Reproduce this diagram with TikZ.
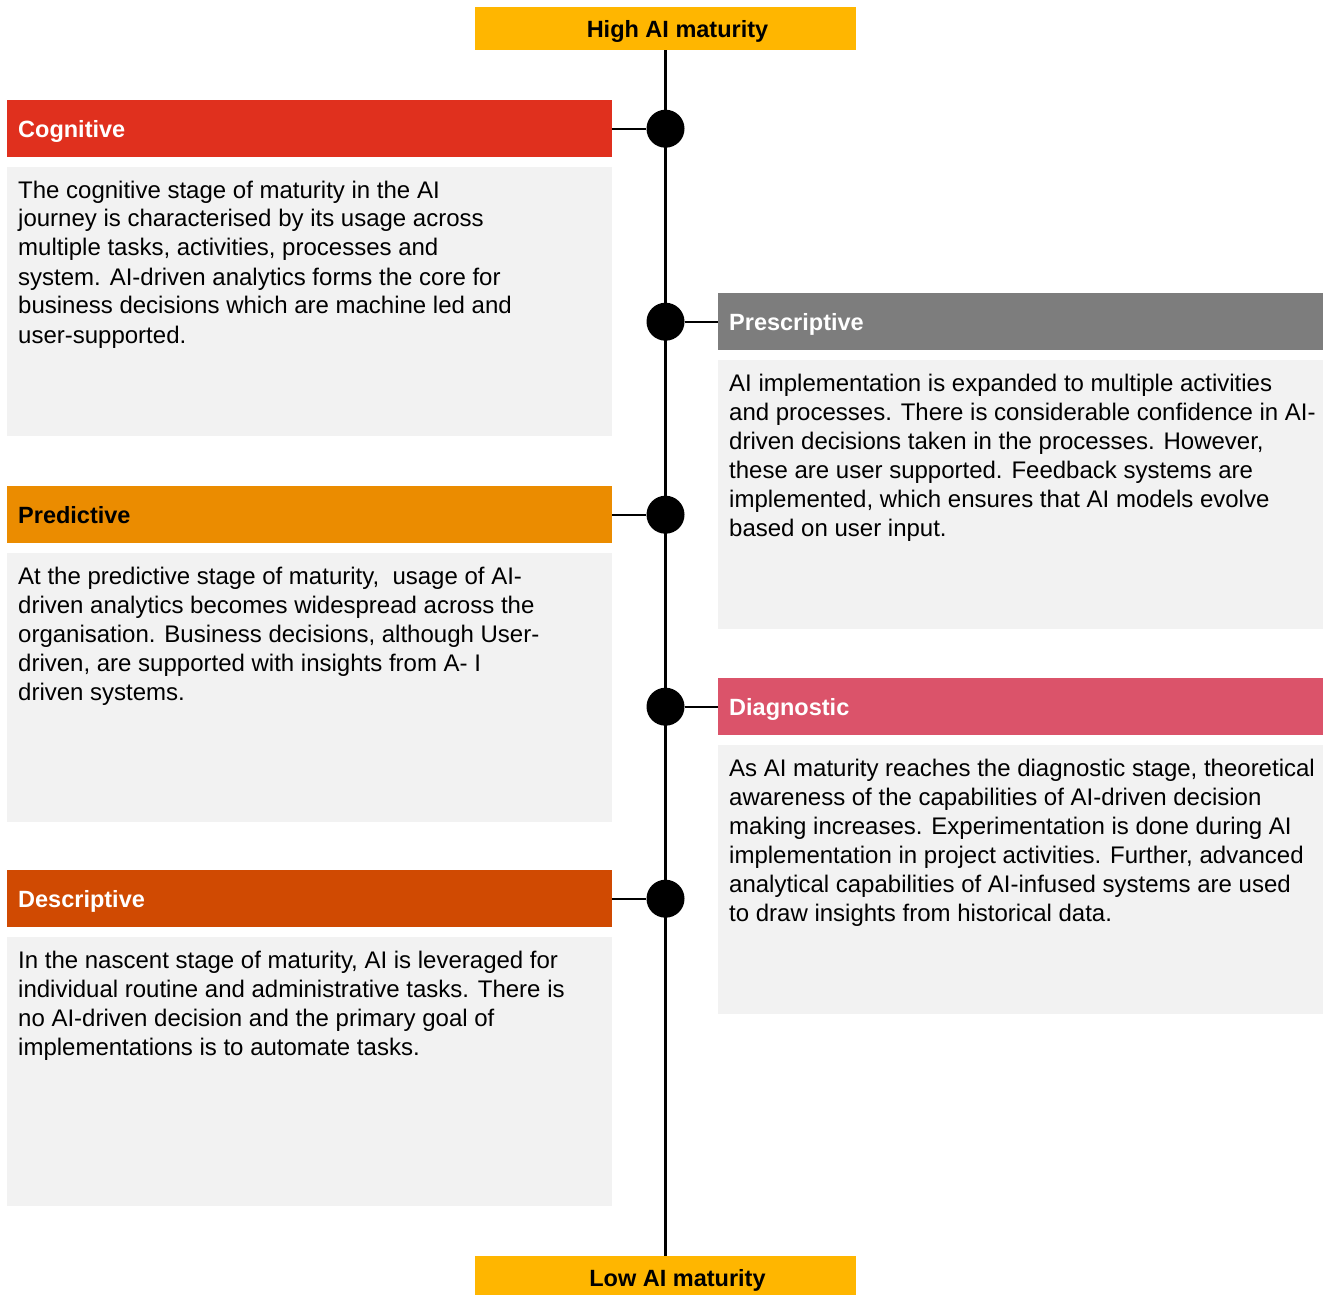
\documentclass[tikz,border=0pt]{standalone}
\usepackage{fontspec}
\setmainfont{Liberation Sans}
\usepackage{xcolor}
\usetikzlibrary{positioning}

\definecolor{amber}{HTML}{FFB600}
\definecolor{cogred}{HTML}{E0301E}
\definecolor{predorange}{HTML}{EB8C00}
\definecolor{descrust}{HTML}{D04A02}
\definecolor{presgrey}{HTML}{7D7D7D}
\definecolor{diagrose}{HTML}{DB536A}
\definecolor{panelgrey}{HTML}{F2F2F2}

\tikzset{
  headbox/.style={anchor=north west,minimum width=605pt,minimum height=57pt,
    text width=583pt,inner xsep=11pt,inner ysep=0pt,align=left,
    text height=17pt,text depth=0pt,font=\fontsize{23.5}{29}\selectfont\bfseries},
  panel/.style={anchor=north west,fill=panelgrey,minimum width=605pt,
    minimum height=269pt,inner sep=0pt},
  bodytext/.style={anchor=north west,inner sep=0pt,align=left,
    font=\fontsize{24}{29}\selectfont},
  endbox/.style={fill=amber,minimum width=381pt,minimum height=43pt,inner sep=0pt,
    text height=17pt,text depth=0pt,font=\fontsize{23.5}{29}\selectfont\bfseries},
  dot/.style={circle,fill=black,minimum size=38pt,inner sep=0pt},
  spine/.style={line width=2.2pt}
}

\begin{document}
\begin{tikzpicture}[x=1pt,y=-1pt]
  % Marco de la imagen
  \useasboundingbox[fill=white] (0,0) rectangle (1327,1294);

  % Extremos de la escala
  \node[endbox] (high) at (665.5,28.5) {\hspace*{24pt}High AI maturity};
  \node[endbox] (low) at (665.5,1277.5) {\hspace*{24pt}Low AI maturity};

  % Eje vertical
  \draw[spine] (high.south) -- (low.north);

  % Etapas a la izquierda
  \node[headbox,fill=cogred,text=white] (cog) at (7,100) {Cognitive};
  \node[panel,below=9pt of cog.south west,anchor=north west] (cogpanel) {};
  \node[bodytext,below right=14pt and 11pt of cogpanel.north west] (cogtxt) {%
    The cognitive stage of maturity in the AI\\
    journey is characterised by its usage across\\
    multiple tasks, activities, processes and\\
    system. AI-driven analytics forms the core for\\
    business decisions which are machine led and\\
    user-supported.};

  \node[headbox,fill=predorange,text=black] (pred) at (7,486) {Predictive};
  \node[panel,below=9pt of pred.south west,anchor=north west] (predpanel) {};
  \node[bodytext,below right=14pt and 11pt of predpanel.north west] (predtxt) {%
    At the predictive stage of maturity,\ \ usage of AI-\\
    driven analytics becomes widespread across the\\
    organisation. Business decisions, although User-\\
    driven, are supported with insights from A- I\\
    driven systems.};

  \node[headbox,fill=descrust,text=white] (desc) at (7,870) {Descriptive};
  \node[panel,below=9pt of desc.south west,anchor=north west] (descpanel) {};
  \node[bodytext,below right=14pt and 11pt of descpanel.north west] (desctxt) {%
    In the nascent stage of maturity, AI is leveraged for\\
    individual routine and administrative tasks. There is\\
    no AI-driven decision and the primary goal of\\
    implementations is to automate tasks.};

  % Etapas a la derecha
  \node[headbox,fill=presgrey,text=white] (pres) at (718,293) {Prescriptive};
  \node[panel,below=9pt of pres.south west,anchor=north west] (prespanel) {};
  \node[bodytext,below right=14pt and 11pt of prespanel.north west] (prestxt) {%
    AI implementation is expanded to multiple activities\\
    and processes. There is considerable confidence in AI-\\
    driven decisions taken in the processes. However,\\
    these are user supported. Feedback systems are\\
    implemented, which ensures that AI models evolve\\
    based on user input.};

  \node[headbox,fill=diagrose,text=white] (diag) at (718,678) {Diagnostic};
  \node[panel,below=9pt of diag.south west,anchor=north west] (diagpanel) {};
  \node[bodytext,below right=14pt and 11pt of diagpanel.north west] (diagtxt) {%
    As AI maturity reaches the diagnostic stage, theoretical\\
    awareness of the capabilities of AI-driven decision\\
    making increases. Experimentation is done during AI\\
    implementation in project activities. Further, advanced\\
    analytical capabilities of AI-infused systems are used\\
    to draw insights from historical data.};

  % Puntos sobre el eje, a la altura de cada etapa
  \foreach \s [count=\i] in {cog,pres,pred,diag,desc} {
    \node[dot] (d\i) at (\s.center -| high.south) {};
  }

  % Conectores entre etapas y puntos
  \draw[spine] (cog.east) -- (d1);
  \draw[spine] (d2) -- (pres.west);
  \draw[spine] (pred.east) -- (d3);
  \draw[spine] (d4) -- (diag.west);
  \draw[spine] (desc.east) -- (d5);
\end{tikzpicture}
\end{document}
